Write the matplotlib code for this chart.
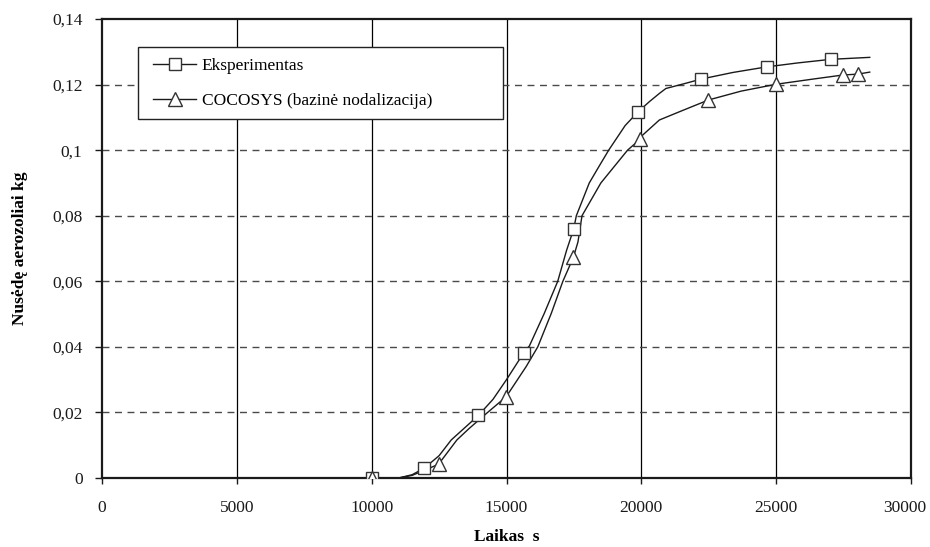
import matplotlib
matplotlib.use("Agg")
import matplotlib.pyplot as plt
from matplotlib.ticker import FixedLocator
from matplotlib.patches import Rectangle
from matplotlib.transforms import ScaledTranslation

plt.rcParams['font.family'] = ['Liberation Serif', 'DejaVu Serif']

# Experiment curve (time s, deposited mass kg)
exp_t = [0, 10000, 11000, 11500, 11950, 12500, 12950, 13960, 14500, 15000, 15640, 15850,
         16400, 16900, 17230, 17490, 17590, 18070, 18420, 18790, 19400, 19880, 20300,
         20670, 20910, 21650, 22230, 23400, 24650, 25800, 27030, 28470]
exp_y = [0, 0, 0, 0.001, 0.003, 0.0068, 0.0116, 0.0191, 0.024, 0.030, 0.0382, 0.0403,
         0.0502, 0.060, 0.0695, 0.0759, 0.080, 0.090, 0.0949, 0.100, 0.1075, 0.1117, 0.1148,
         0.1173, 0.1188, 0.1204, 0.1217, 0.1237, 0.1254, 0.1266, 0.1277, 0.1283]
exp_mt = [10000, 11950, 13960, 15640, 17490, 19880, 22230, 24650, 27030]
exp_my = [0, 0.003, 0.0191, 0.0382, 0.0759, 0.1117, 0.1217, 0.1254, 0.1277]

# COCOSYS curve
coc_t = [0, 10000, 11000, 11500, 12000, 12480, 13160, 13600, 14300, 14990, 15730, 16160,
         16660, 17090, 17480, 17650, 17800, 18500, 19490, 19950, 20050, 20670, 21410,
         22490, 23700, 25000, 26300, 27460, 28040, 28470]
coc_y = [0, 0, 0, 0.0008, 0.0025, 0.0042, 0.0116, 0.015, 0.020, 0.0248, 0.034, 0.040,
         0.0502, 0.060, 0.0673, 0.072, 0.080, 0.090, 0.100, 0.1033, 0.1046, 0.1092, 0.1117,
         0.1153, 0.1180, 0.1201, 0.1216, 0.1229, 0.1232, 0.1238]
coc_mt = [10000, 12480, 14990, 17480, 19950, 22490, 25000, 27460, 28040]
coc_my = [0, 0.0042, 0.0248, 0.0673, 0.1033, 0.1153, 0.1201, 0.1229, 0.1232]

x_ticks = [0, 5000, 10000, 15000, 20000, 25000, 30000]
y_ticks = [0, 0.02, 0.04, 0.06, 0.08, 0.1, 0.12, 0.14]
y_tick_labels = ['0', '0,02', '0,04', '0,06', '0,08', '0,1', '0,12', '0,14']

label_exp = 'Eksperimentas'
label_coc = 'COCOSYS (bazinė nodalizacija)'

W, H = 930, 547
AX_L, AX_R, AX_T, AX_B = 102, 911, 19, 478
fig = plt.figure(figsize=(W / 100, H / 100), dpi=100)
ax = fig.add_axes([AX_L / W, 1 - AX_B / H, (AX_R - AX_L) / W, (AX_B - AX_T) / H])
aw, ah = AX_R - AX_L, AX_B - AX_T

ax.set_xlim(0, 30000)
ax.set_ylim(0, 0.14)
ax.xaxis.set_major_locator(FixedLocator(x_ticks))
ax.yaxis.set_major_locator(FixedLocator(y_ticks))
ax.set_xticklabels([str(v) for v in x_ticks])
ax.set_yticklabels(y_tick_labels)

# grid lines
for xv in x_ticks[1:-1]:
    ax.axvline(xv, color='black', lw=0.9, zorder=1)
for yv in y_ticks[1:-1]:
    ax.axhline(yv, color='#4a4a4a', lw=1.0, dashes=(5, 4), zorder=1)

lc = '#1a1a1a'
ax.plot(exp_t, exp_y, color=lc, lw=1.0, zorder=3)
ax.plot(coc_t, coc_y, color=lc, lw=1.0, zorder=3)
ax.plot(exp_mt, exp_my, ls='none', marker='s', ms=8.5, mfc='white', mec='#333333',
        mew=1.0, zorder=4)
ax.plot(coc_mt, coc_my, ls='none', marker='^', ms=9.5, mfc='white', mec='#333333',
        mew=1.0, zorder=4)

# legend frame (wider than its text, as in the original)
ax.add_patch(Rectangle(((138 - AX_L) / aw, (AX_B - 119) / ah), 365 / aw, 72 / ah,
                       transform=ax.transAxes, facecolor='white', edgecolor='#222222',
                       lw=1.0, zorder=5))

h1, = ax.plot([], [], color=lc, lw=1.0, marker='s', ms=8.5, mfc='white', mec='#333333', mew=1.0)
h2, = ax.plot([], [], color=lc, lw=1.0, marker='^', ms=9.5, mfc='white', mec='#333333', mew=1.0)
leg = ax.legend([h1, h2], [label_exp, label_coc], loc='upper left',
                bbox_to_anchor=((153 - AX_L) / aw, (AX_B - 58) / ah), fontsize=12.5,
                frameon=False, borderpad=0, handlelength=2.5, handletextpad=0.3,
                labelspacing=1.08, borderaxespad=0, numpoints=1)
leg.set_zorder(6)

for s in ax.spines.values():
    s.set_linewidth(1.6)
    s.set_color('#1a1a1a')
ax.tick_params(axis='both', direction='out', labelsize=12.5, colors='#1a1a1a', width=1.0)
ax.tick_params(axis='y', length=5, pad=9)
ax.tick_params(axis='x', length=4, pad=12)

# keep the last x tick label inside the figure
last = ax.get_xticklabels()[-1]
last.set_transform(last.get_transform() + ScaledTranslation(-6 / 100, 0, fig.dpi_scale_trans))

ax.set_xlabel('Laikas  s', fontsize=12.5, fontweight='bold', labelpad=9)
ax.set_ylabel('Nusėdę aerozoliai kg', fontsize=12.5, fontweight='bold', labelpad=17)

fig.savefig('out.png', dpi=100)
